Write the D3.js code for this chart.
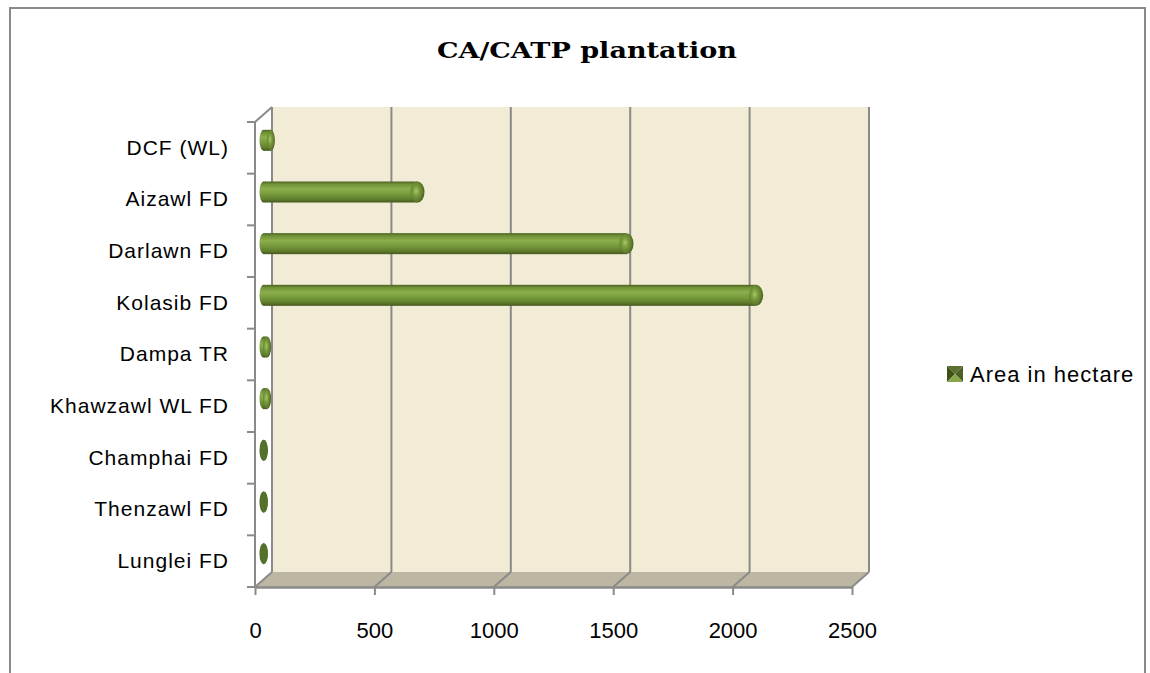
<!DOCTYPE html>
<html>
<head>
<meta charset="utf-8">
<script src="https://cdn.jsdelivr.net/npm/d3@7"></script>
<style>
  html, body { margin: 0; padding: 0; background: #fff; }
  svg { display: block; }
  text { font-family: "Liberation Sans", Arial, sans-serif; fill: #000; }
</style>
</head>
<body>
<div id="chart"></div>
<script>
const categories = ["DCF (WL)", "Aizawl FD", "Darlawn FD", "Kolasib FD", "Dampa TR",
                    "Khawzawl WL FD", "Champhai FD", "Thenzawl FD", "Lunglei FD"];
const areaValues = [31, 645, 1520, 2063, 15, 15, 2, 2, 2];
const xTicks = [0, 500, 1000, 1500, 2000, 2500];
const seriesName = "Area in hectare";
const chartTitle = "CA/CATP plantation";

const W = 1150, H = 673,
      DX = 17, DY = -15,          // depth offset of the back wall
      BAR_H = 21, CAP_RX = 4;

const svg = d3.select('#chart').append('svg')
  .attr('width', W)
  .attr('height', H);

const defs = svg.append('defs');

const bodyGrad = defs.append('linearGradient')
  .attr('id', 'body').attr('x1', 0).attr('y1', 0).attr('x2', 0).attr('y2', 1);
[[0, '#4b5f23'], [0.12, '#6f8f35'], [0.35, '#8cae4c'], [0.6, '#779a3c'], [0.85, '#5f7d2c'], [1, '#44571f']]
  .forEach(s => bodyGrad.append('stop').attr('offset', s[0]).attr('stop-color', s[1]));

const capGrad = defs.append('radialGradient')
  .attr('id', 'cap').attr('cx', 0.4).attr('cy', 0.45).attr('r', 0.6);
[[0, '#a8c86c'], [0.35, '#7d9f3f'], [0.8, '#5d7a2b'], [1, '#4a5e22']]
  .forEach(s => capGrad.append('stop').attr('offset', s[0]).attr('stop-color', s[1]));

// frame
svg.append('rect')
  .attr('x', 10).attr('y', 8)
  .attr('width', 1135).attr('height', 700)
  .attr('fill', 'none')
  .attr('stroke', '#8a8a8a')
  .attr('stroke-width', 2);

// title
svg.append('text')
  .attr('x', 587).attr('y', 58)
  .attr('text-anchor', 'middle')
  .attr('textLength', 300)
  .attr('lengthAdjust', 'spacingAndGlyphs')
  .style('font-family', '"DejaVu Serif", serif')
  .style('font-weight', 'bold')
  .style('font-size', '22px')
  .text(chartTitle);

// scales
const xFront = d3.scaleLinear().domain([0, 2500]).range([255, 852]);
const xBack  = x => xFront(x) + DX;
const xMid   = x => xFront(x) + DX / 2;
const yBand  = d3.scaleBand().domain(categories).range([122, 587]);
const yTop = yBand.range()[0], yBot = yBand.range()[1];

const plot = svg.append('g');

// back wall
plot.append('rect')
  .attr('x', xBack(0)).attr('y', yTop + DY)
  .attr('width', xBack(2500) - xBack(0))
  .attr('height', yBot - yTop)
  .attr('fill', '#f2ebd5');

// floor
plot.append('path')
  .attr('d', d3.line()([[xFront(0), yBot], [xFront(2500), yBot],
                        [xBack(2500), yBot + DY], [xBack(0), yBot + DY]]) + 'Z')
  .attr('fill', '#bcb6a2');

// grid lines on the wall and the floor
plot.selectAll('line.grid')
  .data(xTicks)
  .enter().append('line')
  .attr('class', 'grid')
  .attr('x1', d => xBack(d)).attr('x2', d => xBack(d))
  .attr('y1', yTop + DY).attr('y2', yBot + DY)
  .attr('stroke', '#8a8a8a').attr('stroke-width', 2);

plot.selectAll('line.floor')
  .data(xTicks)
  .enter().append('line')
  .attr('class', 'floor')
  .attr('x1', d => xFront(d)).attr('y1', yBot)
  .attr('x2', d => xBack(d)).attr('y2', yBot + DY)
  .attr('stroke', '#8a8a8a').attr('stroke-width', 2);

// side axis line, top diagonal, category boundary ticks
plot.append('line')
  .attr('x1', xFront(0)).attr('x2', xFront(0))
  .attr('y1', yTop).attr('y2', yBot)
  .attr('stroke', '#8a8a8a').attr('stroke-width', 2);
plot.append('line')
  .attr('x1', xFront(0)).attr('y1', yTop)
  .attr('x2', xBack(0)).attr('y2', yTop + DY)
  .attr('stroke', '#8a8a8a').attr('stroke-width', 2);

const bounds = categories.map(c => yBand(c)).concat([yBot]);
plot.selectAll('line.ytick')
  .data(bounds)
  .enter().append('line')
  .attr('class', 'ytick')
  .attr('x1', xFront(0) - 8).attr('x2', xFront(0))
  .attr('y1', d => d).attr('y2', d => d)
  .attr('stroke', '#8a8a8a').attr('stroke-width', 2);

// x axis
const xAxis = d3.axisBottom(xFront)
  .tickValues(xTicks)
  .tickFormat(d3.format('d'))
  .tickSize(8)
  .tickSizeOuter(0)
  .tickPadding(27);

const gx = plot.append('g')
  .attr('transform', 'translate(0,' + yBot + ')')
  .call(xAxis);
gx.select('.domain').attr('stroke', '#8a8a8a').attr('stroke-width', 2.5);
gx.selectAll('.tick line').attr('stroke', '#8a8a8a').attr('stroke-width', 2);
gx.selectAll('.tick text')
  .style('font-family', '"Liberation Sans", Arial, sans-serif')
  .style('font-size', '22px')
  .attr('fill', '#000');

// y axis labels
const yAxis = d3.axisLeft(yBand).tickSize(0).tickPadding(26);
const gy = plot.append('g')
  .attr('transform', 'translate(' + xFront(0) + ',0)')
  .call(yAxis);
gy.select('.domain').remove();
gy.selectAll('.tick text')
  .style('font-family', '"Liberation Sans", Arial, sans-serif')
  .style('font-size', '21px')
  .style('letter-spacing', '1px')
  .attr('fill', '#000');

// cylinders
const cy = c => yBand(c) + yBand.bandwidth() / 2 + DY / 2;
const bars = plot.selectAll('g.bar')
  .data(categories.map((c, i) => ({ cat: c, v: areaValues[i] })))
  .enter().append('g')
  .attr('class', 'bar');

bars.append('ellipse')
  .attr('cx', d => xMid(0)).attr('cy', d => cy(d.cat))
  .attr('rx', CAP_RX).attr('ry', BAR_H / 2)
  .attr('fill', d => d.v < 5 ? '#4f6426' : 'url(#body)');

bars.append('rect')
  .attr('x', d => xMid(0))
  .attr('y', d => cy(d.cat) - BAR_H / 2)
  .attr('width', d => xMid(d.v) - xMid(0))
  .attr('height', BAR_H)
  .attr('fill', 'url(#body)');

bars.append('ellipse')
  .attr('cx', d => xMid(d.v)).attr('cy', d => cy(d.cat))
  .attr('rx', d => d.v > 100 ? CAP_RX + 3 : CAP_RX)
  .attr('ry', BAR_H / 2)
  .attr('fill', d => d.v < 5 ? '#55702b' : 'url(#cap)');

// legend
const legend = svg.append('g').attr('transform', 'translate(947,366)');
const sw = 16;
[
  [[0, 0], [sw, 0], [sw / 2, sw / 2], '#5a7130'],
  [[0, 0], [0, sw], [sw / 2, sw / 2], '#3f5119'],
  [[sw, 0], [sw, sw], [sw / 2, sw / 2], '#4b6022'],
  [[0, sw], [sw, sw], [sw / 2, sw / 2], '#86a84a']
].forEach(t => {
  legend.append('path')
    .attr('d', d3.line()(t.slice(0, 3)) + 'Z')
    .attr('fill', t[3]);
});
legend.append('text')
  .attr('x', 23).attr('y', 8)
  .attr('dy', '0.36em')
  .style('font-size', '22px')
  .style('letter-spacing', '1px')
  .text(seriesName);
</script>
</body>
</html>
